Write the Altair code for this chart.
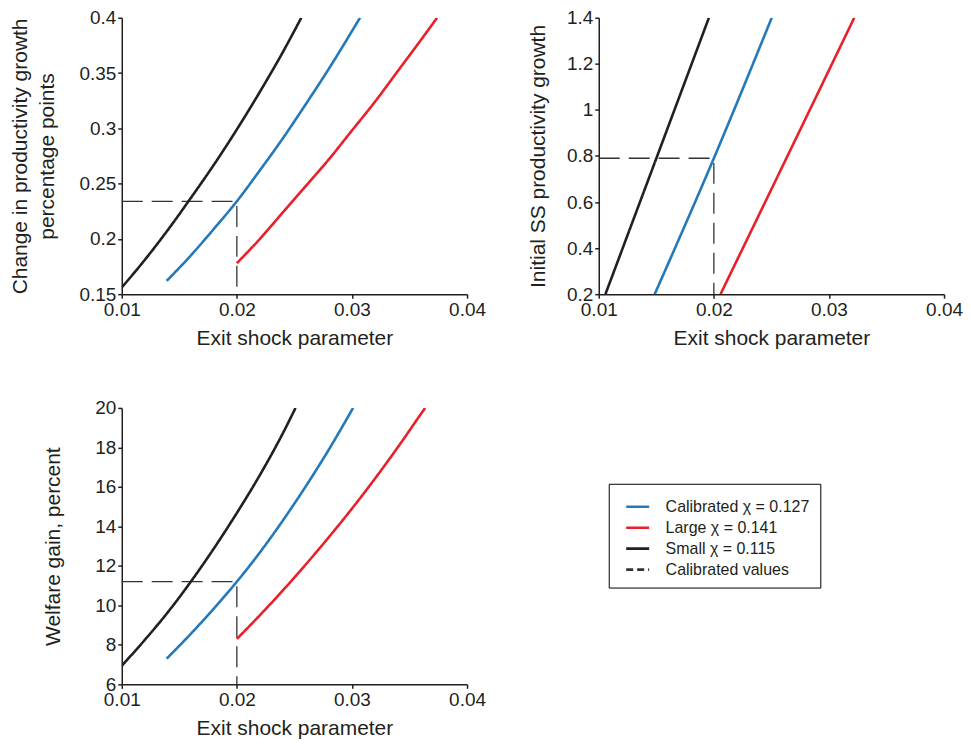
import altair as alt
import pandas as pd

FONT = "Liberation Sans"
INK = "#231f20"

S_CAL = "Calibrated χ = 0.127"
S_LARGE = "Large χ = 0.141"
S_SMALL = "Small χ = 0.115"
S_VALS = "Calibrated values"
series_names = [S_CAL, S_LARGE, S_SMALL, S_VALS]
series_colors = ["#2379b9", "#e8202a", "#231f20", "#333333"]
series_dashes = [[1, 0], [1, 0], [1, 0], [7, 4]]
series_widths = [2.6, 2.6, 2.6, 1.4]

x_ticks = [0.01, 0.02, 0.03, 0.04]

# Panel A: change in productivity growth (percentage points)
a_small_x = [0.010, 0.012, 0.014, 0.016, 0.018, 0.020, 0.022, 0.024, 0.0256]
a_small_y = [0.156, 0.181, 0.208, 0.237, 0.267, 0.299, 0.333, 0.369, 0.400]
a_cal_x = [0.0139, 0.016, 0.018, 0.020, 0.022, 0.024, 0.026, 0.028, 0.0307]
a_cal_y = [0.162, 0.185, 0.209, 0.234, 0.262, 0.291, 0.322, 0.354, 0.400]
a_large_x = [0.020, 0.022, 0.024, 0.026, 0.028, 0.030, 0.032, 0.034, 0.036, 0.0374]
a_large_y = [0.178, 0.200, 0.224, 0.248, 0.272, 0.298, 0.324, 0.352, 0.380, 0.400]
a_calib = 0.234
a_ticks = [0.15, 0.2, 0.25, 0.3, 0.35, 0.4]

# Panel B: initial SS productivity growth
b_small_x = [0.01058, 0.01508, 0.01957]
b_small_y = [0.2, 0.8, 1.4]
b_cal_x = [0.01486, 0.0200, 0.02503]
b_cal_y = [0.2, 0.79, 1.4]
b_large_x = [0.02058, 0.02640, 0.0322]
b_large_y = [0.2, 0.8, 1.4]
b_calib = 0.79
b_ticks = [0.2, 0.4, 0.6, 0.8, 1.0, 1.2, 1.4]

# Panel C: welfare gain, percent
c_small_x = [0.010, 0.012, 0.014, 0.016, 0.018, 0.020, 0.022, 0.024, 0.0251]
c_small_y = [6.94, 8.25, 9.65, 11.2, 12.88, 14.68, 16.6, 18.72, 20.0]
c_cal_x = [0.0139, 0.016, 0.018, 0.020, 0.022, 0.024, 0.026, 0.028, 0.0301]
c_cal_y = [7.30, 8.56, 9.84, 11.2, 12.68, 14.30, 16.04, 17.9, 20.0]
c_large_x = [0.020, 0.022, 0.024, 0.026, 0.028, 0.030, 0.032, 0.034, 0.036, 0.03636]
c_large_y = [8.30, 9.50, 10.76, 12.08, 13.46, 14.90, 16.42, 18.02, 19.70, 20.0]
c_calib = 11.2
c_ticks = [6, 8, 10, 12, 14, 16, 18, 20]


def lines_df(small_x, small_y, cal_x, cal_y, large_x, large_y):
    rows = []
    for name, xs, ys in [(S_SMALL, small_x, small_y), (S_CAL, cal_x, cal_y), (S_LARGE, large_x, large_y)]:
        for i, (x, y) in enumerate(zip(xs, ys)):
            rows.append({"series": name, "x": x, "y": y, "ord": i})
    return pd.DataFrame(rows)


def dash_df(level, ymin):
    xs = [0.01, 0.02, 0.02]
    ys = [level, level, ymin]
    return pd.DataFrame({"series": S_VALS, "x": xs, "y": ys, "ord": [0, 1, 2]})


def make_legend():
    return alt.Legend(
        title=None,
        orient="none",
        legendX=488,
        legendY=467,
        symbolType="stroke",
        symbolSize=530,
        symbolOffset=6,
        labelFont=FONT,
        labelFontSize=16,
        labelColor=INK,
        labelOffset=15,
        strokeColor="black",
        padding=10,
        rowPadding=0,
    )


color = alt.Color(
    "series:N",
    scale=alt.Scale(domain=series_names, range=series_colors),
    legend=make_legend(),
)
dash = alt.StrokeDash(
    "series:N",
    scale=alt.Scale(domain=series_names, range=series_dashes),
    legend=make_legend(),
)
width = alt.StrokeWidth(
    "series:N",
    scale=alt.Scale(domain=series_names, range=series_widths),
    legend=make_legend(),
)


def panel(ldf, ddf, ytitle, ydomain, yticks, tpad):
    x = alt.X(
        "x:Q",
        scale=alt.Scale(domain=[0.01, 0.04], nice=False, zero=False),
        axis=alt.Axis(values=x_ticks, format=".2f", title="Exit shock parameter", titlePadding=8),
    )
    y = alt.Y(
        "y:Q",
        scale=alt.Scale(domain=ydomain, nice=False, zero=False),
        axis=alt.Axis(values=yticks, format="~g", title=ytitle, titlePadding=tpad, titleLineHeight=27),
    )
    solid = alt.Chart(ldf).mark_line(clip=True, interpolate="monotone").encode(
        x=x, y=y, color=color, strokeDash=dash, strokeWidth=width, order=alt.Order("ord:Q")
    )
    dashed = alt.Chart(ddf).mark_line(clip=True).encode(
        x=x, y=y, color=color,
        strokeDash=alt.value([21, 9]), strokeWidth=alt.value(1.3),
        order=alt.Order("ord:Q"),
    )
    return alt.layer(dashed, solid).properties(width=346, height=277)


p1 = panel(
    lines_df(a_small_x, a_small_y, a_cal_x, a_cal_y, a_large_x, a_large_y),
    dash_df(a_calib, 0.15),
    ["Change in productivity growth", "percentage points"],
    [0.15, 0.4], a_ticks, 21,
)
p2 = panel(
    lines_df(b_small_x, b_small_y, b_cal_x, b_cal_y, b_large_x, b_large_y),
    dash_df(b_calib, 0.2),
    "Initial SS productivity growth",
    [0.2, 1.4], b_ticks, 18,
)
p3 = panel(
    lines_df(c_small_x, c_small_y, c_cal_x, c_cal_y, c_large_x, c_large_y),
    dash_df(c_calib, 6),
    "Welfare gain, percent",
    [6, 20], c_ticks, 31,
)

chart = (
    alt.concat(p1, p2, p3, columns=2, spacing={"row": 51, "column": 41})
    .properties(padding={"top": 0, "left": 2, "right": 0, "bottom": 0})
    .configure_view(stroke=None)
    .configure_axis(
        grid=False,
        domainColor=INK,
        domainWidth=1.5,
        tickColor=INK,
        tickWidth=1.5,
        tickSize=4,
        labelFont=FONT,
        labelFontSize=19,
        labelColor=INK,
        labelPadding=2,
        labelFlush=False,
        labelOverlap=False,
        titleFont=FONT,
        titleFontSize=21,
        titleFontWeight="normal",
        titleColor=INK,
    )
)

chart.save("out.html", embed_options={"renderer": "svg", "actions": False})
